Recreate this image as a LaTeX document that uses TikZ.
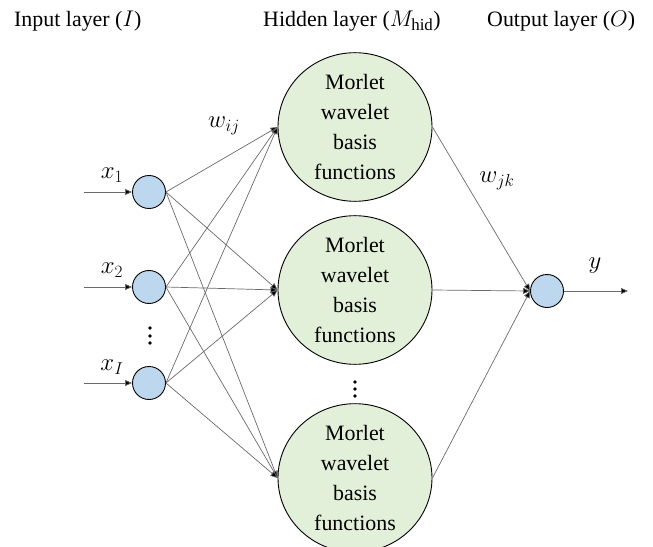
\documentclass[tikz,border=0pt]{standalone}
\usepackage{fontspec}
\setmainfont{Liberation Serif}
\usetikzlibrary{arrows.meta,shapes.geometric}
\definecolor{unitblue}{HTML}{BDD7EE}
\definecolor{unitgreen}{HTML}{E2F0D9}
\definecolor{linkgray}{HTML}{6A6A6A}
\begin{document}
\begin{tikzpicture}[x=1bp,y=-1bp,
  every node/.style={font=\fontsize{22}{30}\selectfont},
  mathlabel/.style={font=\fontsize{26}{30}\selectfont},
  unit/.style={circle,draw=black,line width=0.9bp,fill=unitblue,minimum size=33bp,inner sep=0pt},
  wavelet/.style={ellipse,draw=black,line width=0.9bp,fill=unitgreen,minimum width=154bp,minimum height=145bp,inner sep=0pt,align=center},
  link/.style={draw=linkgray,line width=0.7bp,-{Triangle[length=7bp,width=6bp,fill=black]}},
  dotmark/.style={circle,fill=black,inner sep=0pt,minimum size=3.6bp}
]
\useasboundingbox (0,0) rectangle (653,547);

% layer titles
\node[anchor=base west,inner sep=0pt] (tin) at (14,27) {Input layer (\scalebox{1.1}{$I$})};
\node[anchor=base west,inner sep=0pt] (thid) at (263,27) {Hidden layer (\scalebox{1.1}{$M_{\mathrm{hid}}$})};
\node[anchor=base west,inner sep=0pt] (tout) at (487,27) {Output layer (\scalebox{1.1}{$O$})};

% input units
\node[unit] (i1) at (149,192) {};
\node[unit] (i2) at (149,287) {};
\node[unit] (i3) at (149,383) {};
\node[dotmark] (di1) at (150,328) {};
\node[dotmark] (di2) at (150,336) {};
\node[dotmark] (di3) at (150,343) {};

% hidden wavelet units
\node[wavelet] (h1) at (355,127) {Morlet\\wavelet\\basis\\functions};
\node[wavelet] (h2) at (355,290) {Morlet\\wavelet\\basis\\functions};
\node[wavelet] (h3) at (355,478) {Morlet\\wavelet\\basis\\functions};
\node[dotmark] (dh1) at (355,382) {};
\node[dotmark] (dh2) at (355,389) {};
\node[dotmark] (dh3) at (355,396) {};

% output unit
\node[unit] (o) at (547,291) {};

% input signals
\coordinate (s1) at (84,192);
\coordinate (s2) at (84,287);
\coordinate (s3) at (84,383);
\coordinate (yend) at (628,291);
\draw[link] (s1) -- (i1.west);
\draw[link] (s2) -- (i2.west);
\draw[link] (s3) -- (i3.west);
\node[mathlabel] (lx1) at (112,175) {$x_1$};
\node[mathlabel] (lx2) at (112,270) {$x_2$};
\node[mathlabel] (lx3) at (112,367) {$x_I$};

% input to hidden weights
\foreach \a in {i1,i2,i3}
  \foreach \b in {h1,h2,h3}
    \draw[link] (\a.east) -- (\b.west);

% hidden to output weights
\foreach \b in {h1,h2,h3}
  \draw[link] (\b.east) -- (o.west);

% output signal
\draw[link] (o.east) -- (yend);

% weight labels
\node[mathlabel] (wij) at (224,126) {$w_{ij}$};
\node[mathlabel] (wjk) at (497,181) {$w_{jk}$};
\node[mathlabel] (ly) at (595,266) {$y$};
\end{tikzpicture}
\end{document}
